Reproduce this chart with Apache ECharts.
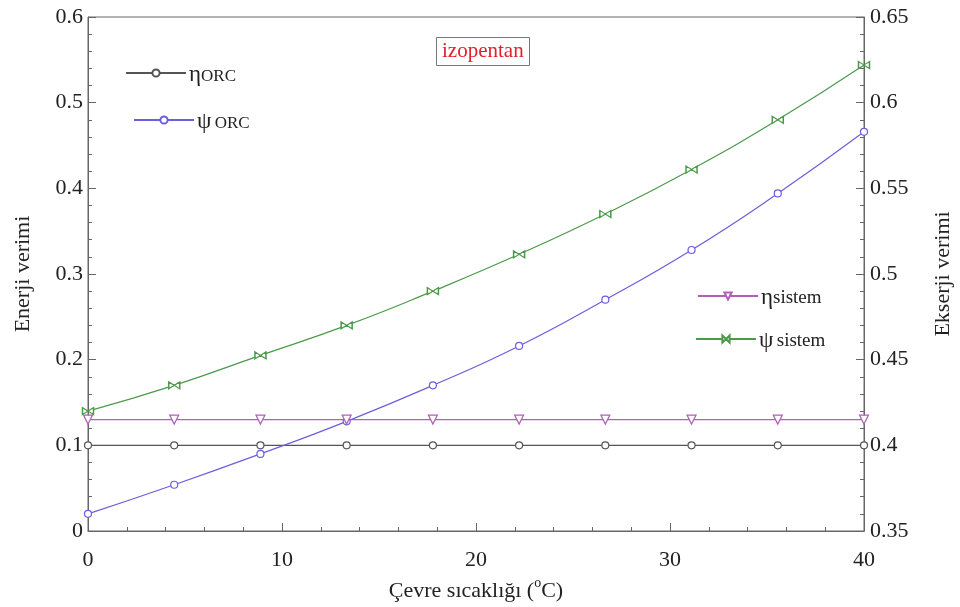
<!DOCTYPE html>
<html>
<head>
<meta charset="utf-8">
<script src="https://cdn.jsdelivr.net/npm/echarts@6/dist/echarts.min.js"></script>
<style>html,body{margin:0;padding:0;background:#fff}#c{width:960px;height:607px}</style>
</head>
<body>
<div id="c"></div>
<script>
// Ambient temperature (°C) sample points
var temps = [0, 4.444, 8.889, 13.333, 17.778, 22.222, 26.667, 31.111, 35.556, 40];
// Energy efficiencies (left axis)
var etaORC = [0.1, 0.1, 0.1, 0.1, 0.1, 0.1, 0.1, 0.1, 0.1, 0.1];
var etaSistem = [0.13, 0.13, 0.13, 0.13, 0.13, 0.13, 0.13, 0.13, 0.13, 0.13];
// Exergy efficiencies (right axis)
var psiORC = [0.360, 0.377, 0.395, 0.414, 0.435, 0.458, 0.485, 0.514, 0.547, 0.583];
var psiSistem = [0.420, 0.435, 0.4525, 0.470, 0.490, 0.5115, 0.535, 0.561, 0.590, 0.622];
// Axis ticks
var xTicks = [0, 10, 20, 30, 40];
var leftTicks = [0, 0.1, 0.2, 0.3, 0.4, 0.5, 0.6];
var rightTicks = [0.35, 0.4, 0.45, 0.5, 0.55, 0.6, 0.65];

function pairs(xs, ys){ return xs.map(function(x,i){ return [x, ys[i]]; }); }

var FONT = '"Liberation Serif", "DejaVu Serif", serif';
var AX = '#666';
var bowtie = 'path://M0,0 L10,6 L0,12 Z M20,0 L10,6 L20,12 Z M0,0 L0,12 M20,0 L20,12';

var chart = echarts.init(document.getElementById('c'));
function legendRich(){
  return {
    g: {fontFamily: FONT, fontSize: 23, color: '#222', lineHeight: 26, verticalAlign: 'bottom'},
    s: {fontFamily: FONT, fontSize: 17, color: '#222', lineHeight: 26, verticalAlign: 'bottom', padding: [0,0,1,0]},
    t: {fontFamily: FONT, fontSize: 19, color: '#222', lineHeight: 26, verticalAlign: 'bottom', padding: [0,0,1,0]}
  };
}
var names = {
  'etaORC': '{g|η}{s|ORC}',
  'psiORC': '{g|ψ} {s|ORC}',
  'etaS': '{g|η}{t|sistem}',
  'psiS': '{g|ψ} {t|sistem}'
};
function mkLegend(name, left, top){
  return {
    data: [name], left: left, top: top, orient: 'vertical',
    itemWidth: 60, itemHeight: 9, itemGap: 0, padding: 0,
    selectedMode: false,
    formatter: function(n){ return names[n]; },
    textStyle: {rich: legendRich(), padding: [0,0,0,-2]}
  };
}
chart.setOption({
  animation: false,
  backgroundColor: '#fff',
  title: {
    text: 'izopentan', left: 436, top: 37,
    borderColor: '#777', borderWidth: 1, padding: [4, 6, 4, 6],
    backgroundColor: '#fff',
    textStyle: {color: '#e0202a', fontFamily: FONT, fontSize: 21, fontWeight: 'normal'}
  },
  legend: [
    mkLegend('etaORC', 125, 63),
    mkLegend('psiORC', 133, 110),
    mkLegend('etaS', 697, 286),
    mkLegend('psiS', 695, 329)
  ],
  grid: {left: 88, right: 96, top: 17, bottom: 76, show: true, borderColor: AX, borderWidth: 1,
    containLabel: false, outerBoundsMode: 'none'},
  xAxis: {
    type: 'value', min: 0, max: 40, interval: 10,
    name: '{b|Çevre sıcaklığı (}{sup|o}{b|C)}', nameLocation: 'middle', nameGap: 45,
    nameTextStyle: {fontFamily: FONT, fontSize: 22, color: '#222',
      rich: {
        b: {fontFamily: FONT, fontSize: 22, color: '#222', lineHeight: 26, verticalAlign: 'bottom'},
        sup: {fontFamily: FONT, fontSize: 14, color: '#222', lineHeight: 14, verticalAlign: 'top'}
      }},
    axisLine: {show: true, lineStyle: {color: AX}},
    axisTick: {show: true, inside: true, length: 8, lineStyle: {color: AX}},
    minorTick: {show: true, splitNumber: 5, length: 4, lineStyle: {color: AX}},
    splitLine: {show: false},
    axisLabel: {fontFamily: FONT, fontSize: 22, color: '#222', margin: 18,
      formatter: function(v){ return xTicks.indexOf(v) >= 0 ? String(v) : ''; }}
  },
  yAxis: [{
    type: 'value', min: 0, max: 0.6, interval: 0.1, position: 'left',
    name: 'Enerji verimi', nameLocation: 'middle', nameGap: 54, nameRotate: 90,
    nameTextStyle: {fontFamily: FONT, fontSize: 22, color: '#222'},
    axisLine: {show: true, lineStyle: {color: AX}},
    axisTick: {show: true, inside: true, length: 8, lineStyle: {color: AX}},
    minorTick: {show: true, splitNumber: 5, length: 4, lineStyle: {color: AX}},
    splitLine: {show: false},
    axisLabel: {fontFamily: FONT, fontSize: 22, color: '#222', margin: 5,
      formatter: function(v){ var r = Math.round(v*10)/10; return leftTicks.indexOf(r) >= 0 ? String(r) : ''; }}
  }, {
    type: 'value', min: 0.35, max: 0.65, interval: 0.05, position: 'right',
    name: 'Ekserji verimi', nameLocation: 'middle', nameGap: 68, nameRotate: 90,
    nameTextStyle: {fontFamily: FONT, fontSize: 22, color: '#222'},
    axisLine: {show: true, lineStyle: {color: AX}},
    axisTick: {show: true, inside: true, length: 8, lineStyle: {color: AX}},
    minorTick: {show: true, splitNumber: 5, length: 4, lineStyle: {color: AX}},
    splitLine: {show: false},
    axisLabel: {fontFamily: FONT, fontSize: 22, color: '#222', margin: 6,
      formatter: function(v){ var r = Math.round(v*100)/100; return rightTicks.indexOf(r) >= 0 ? String(r) : ''; }}
  }],
  series: [{
    name: 'etaORC', type: 'line', yAxisIndex: 0, data: pairs(temps, etaORC),
    symbol: 'circle', symbolSize: 7, showAllSymbol: true,
    lineStyle: {color: '#555', width: 1.2}, itemStyle: {color: '#fff', borderColor: '#555', borderWidth: 1.2}
  }, {
    name: 'psiORC', type: 'line', yAxisIndex: 1, data: pairs(temps, psiORC), smooth: true,
    symbol: 'circle', symbolSize: 7,
    lineStyle: {color: '#6a5fdc', width: 1.2}, itemStyle: {color: '#fff', borderColor: '#6a5fdc', borderWidth: 1.2}
  }, {
    name: 'etaS', type: 'line', yAxisIndex: 0, data: pairs(temps, etaSistem),
    symbol: 'triangle', symbolRotate: 180, symbolSize: 9,
    lineStyle: {color: '#b060b8', width: 1.2}, itemStyle: {color: '#fff', borderColor: '#b060b8', borderWidth: 1.2}
  }, {
    name: 'psiS', type: 'line', yAxisIndex: 1, data: pairs(temps, psiSistem), smooth: true,
    symbol: bowtie, symbolSize: [11, 7],
    lineStyle: {color: '#4a9a4a', width: 1.2}, itemStyle: {color: '#fff', borderColor: '#4a9a4a', borderWidth: 1.2}
  }]
});
</script>
</body>
</html>
